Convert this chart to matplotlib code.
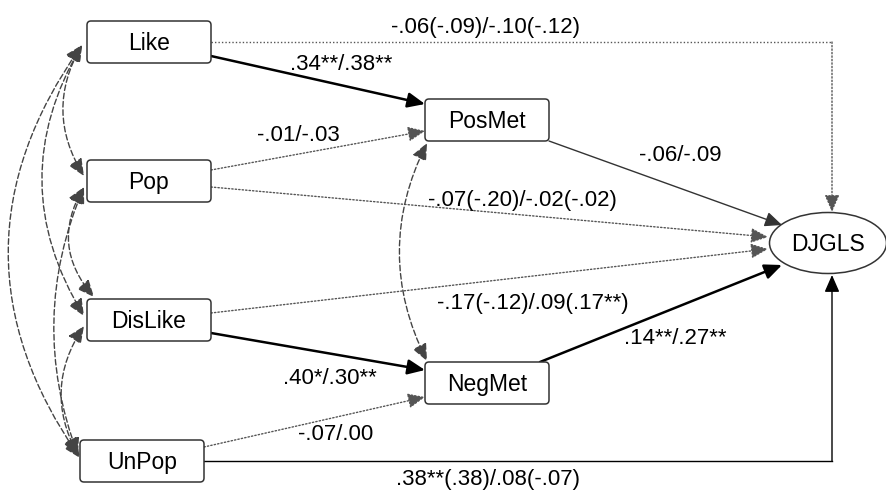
import matplotlib.pyplot as plt
from matplotlib.patches import FancyBboxPatch, Ellipse, FancyArrowPatch

plt.rcParams["font.family"] = ["Liberation Sans", "DejaVu Sans"]

# node names
exog = ["Like", "Pop", "DisLike", "UnPop"]
mediators = ["PosMet", "NegMet"]
outcome = "DJGLS"

# path coefficients (label text)
like_out = "-.06(-.09)/-.10(-.12)"
like_pos = ".34**/.38**"
pop_pos = "-.01/-.03"
pop_out = "-.07(-.20)/-.02(-.02)"
pos_out = "-.06/-.09"
dis_out = "-.17(-.12)/.09(.17**)"
dis_neg = ".40*/.30**"
neg_out = ".14**/.27**"
unpop_neg = "-.07/.00"
unpop_out = ".38**(.38)/.08(-.07)"

# layout (pixel coords, y downwards)
centers = {"Like": (149, 42), "Pop": (149, 181), "DisLike": (149, 320),
           "UnPop": (142, 461), "PosMet": (487, 120), "NegMet": (487, 383)}
bw, bh = 124, 42
ell_c, ell_w, ell_h = (828, 243), 117, 61
fs_node = 16.5
fs_lab = 16

fig = plt.figure(figsize=(8.87, 4.90), dpi=100)
ax = fig.add_axes([0, 0, 1, 1])
ax.set_xlim(0, 887)
ax.set_ylim(490, 0)
ax.axis("off")

for name, (cx, cy) in centers.items():
    ax.add_patch(FancyBboxPatch((cx - bw / 2, cy - bh / 2), bw, bh,
                                boxstyle="round,pad=0,rounding_size=4",
                                fc="white", ec="#333333", lw=1.1, zorder=3))
    ax.text(cx, cy + 1, name, ha="center", va="center", fontsize=fs_node, zorder=4)

ax.add_patch(Ellipse(ell_c, ell_w, ell_h, fc="white", ec="#333333", lw=1.1, zorder=3))
ax.text(ell_c[0], ell_c[1] + 1, outcome, ha="center", va="center", fontsize=fs_node, zorder=4)


def arrow(p0, p1, style="solid", lw=1.0, color="black", rad=0.0, head="-|>"):
    a = FancyArrowPatch(p0, p1, arrowstyle=head + ",head_length=0.8,head_width=0.35",
                        mutation_scale=13,
                        connectionstyle=f"arc3,rad={rad}", lw=lw, color=color,
                        linestyle=style, shrinkA=0, shrinkB=0, zorder=2)
    ax.add_patch(a)


def label(x, y, s):
    ax.text(x, y, s, ha="center", va="center", fontsize=fs_lab, zorder=5)


dot = (0, (1, 1.5))
gray = "#555555"

# Like -> DJGLS (elbow, dotted)
ax.plot([211, 832], [42, 42], color=gray, lw=1, linestyle=dot)
arrow((832, 42), (832, 212), style=dot, color=gray)
label(486, 27, like_out)

# Like -> PosMet
arrow((211, 56), (425, 104), lw=1.8)
label(341, 65, like_pos)

# Pop -> PosMet
arrow((211, 170), (425, 131), style=dot, color=gray)
label(298, 135, pop_pos)

# Pop -> DJGLS
arrow((211, 187), (768, 237), style=dot, color=gray)
label(522, 200, pop_out)

# PosMet -> DJGLS
arrow((549, 141), (782, 225), lw=1.0, color="#333333")
label(680, 155, pos_out)

# DisLike -> DJGLS
arrow((211, 313), (768, 249), style=dot, color=gray)
label(533, 303, dis_out)

# DisLike -> NegMet
arrow((211, 333), (425, 370), lw=1.8)
label(330, 378, dis_neg)

# NegMet -> DJGLS
arrow((540, 362), (782, 265), lw=1.8)
label(675, 338, neg_out)

# UnPop -> NegMet
arrow((204, 447), (425, 397), style=dot, color=gray)
label(336, 434, unpop_neg)

# UnPop -> DJGLS (elbow)
ax.plot([204, 832], [461, 461], color="black", lw=1)
arrow((832, 461), (832, 275), color="black")
label(488, 479, unpop_out)

# covariances (dashed, double headed)
dash = (0, (4, 2))
arrow((427, 143), (427, 361), style=dash, color="#444444", rad=0.25, head="<|-|>")
covs = [((82, 45), (84, 176), 0.3),
        ((82, 45), (84, 316), 0.3),
        ((82, 45), (80, 458), 0.35),
        ((84, 187), (94, 297), 0.36),
        ((84, 187), (78, 455), 0.2),
        ((84, 326), (78, 455), 0.3)]
for p0, p1, r in covs:
    arrow(p0, p1, style=dash, color="#444444", rad=r, head="<|-|>")

fig.savefig("out.png", dpi=100)
